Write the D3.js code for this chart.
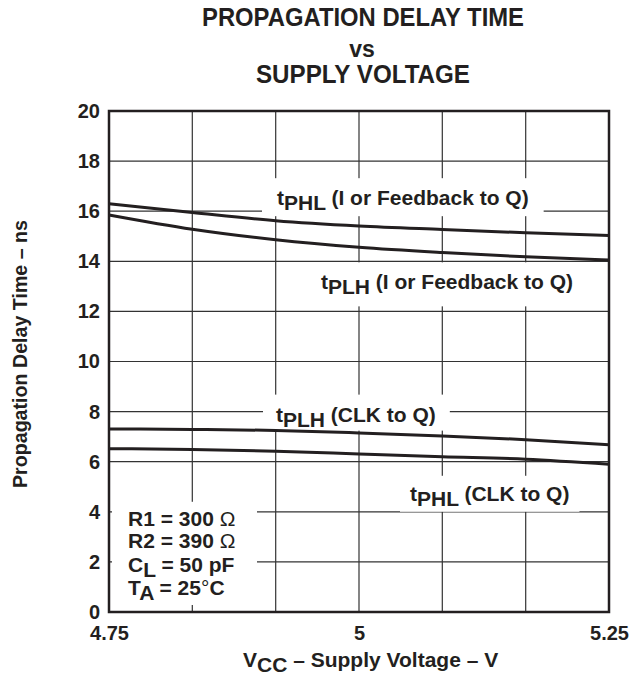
<!DOCTYPE html>
<html>
<head>
<meta charset="utf-8">
<script src="https://cdn.jsdelivr.net/npm/d3@7"></script>
<style>
  body { margin: 0; background: #fff; }
  text { font-family: "Liberation Sans", Arial, sans-serif; font-weight: bold; fill: #231f20; }
</style>
</head>
<body>
<script>
// supply voltage points (V) read at each vertical grid line
var volts = [4.75, 4.8333, 4.9167, 5.0, 5.0833, 5.1667, 5.25];

// propagation delay (ns) for each curve
var tphlFb  = [16.3, 15.95, 15.62, 15.41, 15.27, 15.14, 15.03];
var tplhFb  = [15.85, 15.28, 14.86, 14.56, 14.35, 14.18, 14.05];
var tplhClk = [7.31, 7.29, 7.25, 7.15, 7.03, 6.88, 6.68];
var tphlClk = [6.52, 6.49, 6.42, 6.31, 6.2, 6.1, 5.9];

// tick labels
var xTicks = [4.75, 5, 5.25];
var xTickLabels = ["4.75", "5", "5.25"];
var yTicks = [0, 2, 4, 6, 8, 10, 12, 14, 16, 18, 20];

var w = 634, h = 686;
var margin = {top: 111, right: 25, bottom: 74, left: 109};
var pw = w - margin.left - margin.right;
var ph = h - margin.top - margin.bottom;

var svg = d3.select("body").append("svg")
  .attr("width", w)
  .attr("height", h);

// title
var title = svg.append("g").attr("text-anchor", "middle");
title.append("text").attr("x", 363).attr("y", 26).style("font-size", "25px")
  .attr("textLength", 322).attr("lengthAdjust", "spacingAndGlyphs")
  .text("PROPAGATION DELAY TIME");
title.append("text").attr("x", 362).attr("y", 57).style("font-size", "23px")
  .text("vs");
title.append("text").attr("x", 363).attr("y", 83).style("font-size", "25px")
  .attr("textLength", 214).attr("lengthAdjust", "spacingAndGlyphs")
  .text("SUPPLY VOLTAGE");

var g = svg.append("g")
  .attr("transform", "translate(" + margin.left + "," + margin.top + ")");

var x = d3.scaleLinear().domain([4.75, 5.25]).range([0, pw]);
var y = d3.scaleLinear().domain([0, 20]).range([ph, 0]);

// grid lines
g.append("g").selectAll("line")
  .data(volts.slice(1, -1))
  .enter().append("line")
  .attr("x1", function(d) { return x(d); })
  .attr("x2", function(d) { return x(d); })
  .attr("y1", 0).attr("y2", ph)
  .attr("stroke", "#333").attr("stroke-width", 1.2);

g.append("g").selectAll("line")
  .data(yTicks.slice(1, -1))
  .enter().append("line")
  .attr("x1", 0).attr("x2", pw)
  .attr("y1", function(d) { return y(d); })
  .attr("y2", function(d) { return y(d); })
  .attr("stroke", "#333").attr("stroke-width", 1.2);

// white boxes behind text (masks the grid)
var boxes = g.append("g");
var labels = g.append("g");

function addLabel(vx, vy, main, sub, rest, pad) {
  var t = labels.append("text")
    .attr("x", x(vx)).attr("y", y(vy))
    .style("font-size", "21px");
  t.append("tspan").text(main);
  t.append("tspan").attr("dy", 5).text(sub);
  t.append("tspan").attr("dy", -5).text(rest);
  var b = t.node().getBBox();
  boxes.append("rect")
    .attr("x", b.x - pad[0]).attr("y", b.y - pad[1])
    .attr("width", b.width + pad[0] + pad[2])
    .attr("height", b.height + pad[1] + pad[3])
    .attr("fill", "#fff");
}

addLabel(4.918, 16.24, "t", "PHL", " (I or Feedback to Q)", [15, 8, 15, 2]);
addLabel(4.962, 12.88, "t", "PLH", " (I or Feedback to Q)", [8, 8, 8, 8]);
addLabel(4.917, 7.6, "t", "PLH", " (CLK to Q)", [13, 8, 14, 0]);
addLabel(5.051, 4.44, "t", "PHL", " (CLK to Q)", [10, 6, 10, 2]);

// conditions block
var cond = labels.append("g").style("font-size", "21px");
var c1 = cond.append("text").attr("x", 19).attr("y", y(3.45));
c1.append("tspan").text("R1 = 300 ");
c1.append("tspan").style("font-weight", "normal").text("Ω");
var c2 = cond.append("text").attr("x", 19).attr("y", y(2.57));
c2.append("tspan").text("R2 = 390 ");
c2.append("tspan").style("font-weight", "normal").text("Ω");
var c3 = cond.append("text").attr("x", 19).attr("y", y(1.6));
c3.append("tspan").text("C");
c3.append("tspan").attr("dy", 5).text("L");
c3.append("tspan").attr("dy", -5).text(" = 50 pF");
var c4 = cond.append("text").attr("x", 19).attr("y", y(0.68));
c4.append("tspan").text("T");
c4.append("tspan").attr("dy", 5).text("A");
c4.append("tspan").attr("dy", -5).text(" = 25");
c4.append("tspan").style("font-weight", "normal").text("°");
c4.append("tspan").text("C");
boxes.append("rect")
  .attr("x", 3).attr("y", y(4.4))
  .attr("width", 145).attr("height", y(0.28) - y(4.4))
  .attr("fill", "#fff");

// curves
var line = d3.line()
  .x(function(d, i) { return x(volts[i]); })
  .y(function(d) { return y(d); })
  .curve(d3.curveMonotoneX);

[tphlFb, tplhFb, tplhClk, tphlClk].forEach(function(s) {
  g.append("path")
    .datum(s)
    .attr("d", line)
    .attr("fill", "none")
    .attr("stroke", "#231f20")
    .attr("stroke-width", 3);
});

// frame
g.append("rect")
  .attr("width", pw).attr("height", ph)
  .attr("fill", "none").attr("stroke", "#231f20").attr("stroke-width", 2.5);

// axes
g.append("g")
  .call(d3.axisLeft(y).tickValues(yTicks).tickSize(0).tickPadding(9))
  .call(function(a) { a.select(".domain").remove(); })
  .selectAll("text")
  .style("font-size", "20px")
  .style("font-family", null);

g.append("g")
  .attr("transform", "translate(0," + ph + ")")
  .call(d3.axisBottom(x).tickValues(xTicks).tickSize(0).tickPadding(14)
    .tickFormat(function(d, i) { return xTickLabels[i]; }))
  .call(function(a) { a.select(".domain").remove(); })
  .selectAll("text")
  .style("font-size", "20px")
  .style("font-family", null);

g.selectAll(".tick text").attr("fill", "#231f20");

// axis titles
svg.append("text")
  .attr("transform", "translate(27," + 354 + ") rotate(-90)")
  .attr("text-anchor", "middle")
  .style("font-size", "20px")
  .attr("textLength", 268).attr("lengthAdjust", "spacingAndGlyphs")
  .text("Propagation Delay Time – ns");

var xt = svg.append("text")
  .attr("x", 243).attr("y", 667)
  .style("font-size", "21px");
xt.append("tspan").text("V");
xt.append("tspan").attr("dy", 5).text("CC");
xt.append("tspan").attr("dy", -5).text(" – Supply Voltage – V");
</script>
</body>
</html>
